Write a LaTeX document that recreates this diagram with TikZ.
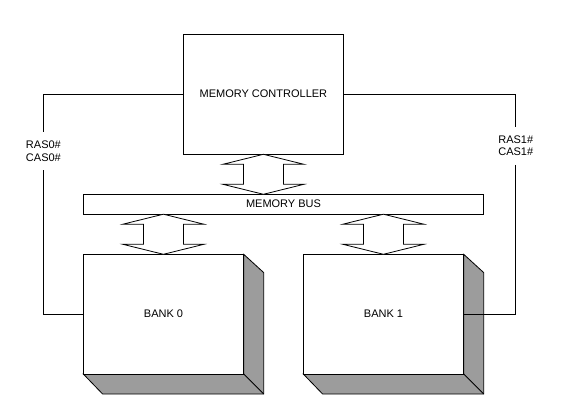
\documentclass[tikz,border=0pt]{standalone}
\usepackage{fontspec}
\setmainfont{Liberation Sans}
\begin{document}
\begin{tikzpicture}[x=1pt,y=-1pt,line width=0.8pt,
  box/.style={draw,fill=white,inner sep=0pt,font=\fontsize{11}{12.5}\selectfont},
  sig/.style={inner xsep=1pt,inner ysep=8.5pt,align=center,font=\fontsize{11}{12.5}\selectfont},
  shade/.style={draw,fill=gray!78},
  dblarrow/.style={draw,fill=white,line join=miter}]
\useasboundingbox (0,0) rectangle (562,411);
% nodes
\node[box,minimum width=159.9pt,minimum height=120.3pt] (ctrl) at (263.4,94.2) {MEMORY CONTROLLER};
\node[box,minimum width=400.2pt,minimum height=19.7pt] (bus) at (283.5,204.2) {MEMORY BUS};
% bank shadows
\foreach \xa/\xb in {83.3/243.7,303.3/463.7}{
  \path[shade] (\xb,254.3) -- (\xb+20,272.6) -- (\xb+20,394) -- (\xa+19.3,394) -- (\xa,374) -- (\xb,374) -- cycle;
  \draw (\xb,374) -- (\xb+20,394);
}
\node[box,minimum width=160.4pt,minimum height=119.7pt] (bank0) at (163.5,314.15) {BANK 0};
\node[box,minimum width=160.4pt,minimum height=119.7pt] (bank1) at (383.5,314.15) {BANK 1};
% double arrows
\foreach \cx/\t/\b in {263.4/154.3/194.3, 163.4/214.2/254.3, 383.4/214.2/254.3}{
  \path[dblarrow] (\cx,\t) -- (\cx+40.5,\t+10) -- (\cx+20,\t+10) -- (\cx+20,\b-10) -- (\cx+40.5,\b-10)
    -- (\cx,\b) -- (\cx-40.5,\b-10) -- (\cx-20,\b-10) -- (\cx-20,\t+10) -- (\cx-40.5,\t+10) -- cycle;
}
% signal labels
\node[sig] (lab0) at (43.4,151) {RAS0\#\\CAS0\#};
\node[sig] (lab1) at (515.8,145.8) {RAS1\#\\CAS1\#};
% connectors
\draw (ctrl.west) -| (lab0.north);
\draw (lab0.south) |- (bank0.west);
\draw (ctrl.east) -| (lab1.north);
\draw (lab1.south) |- (bank1.east);
\end{tikzpicture}
\end{document}
